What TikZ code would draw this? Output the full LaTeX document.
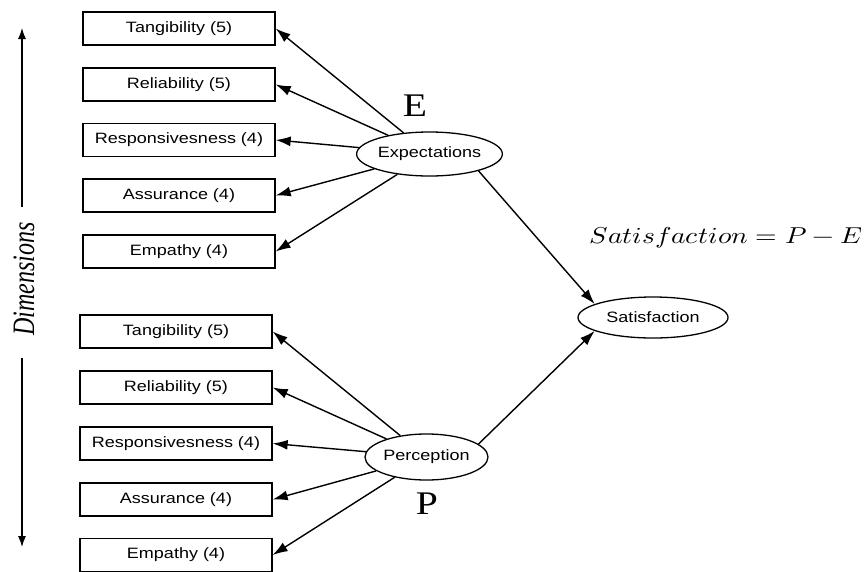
\documentclass[tikz,border=0pt]{standalone}
\usepackage{fontspec}
\usepackage{unicode-math}
\setmainfont{Liberation Serif}
\newfontfamily\boxfont[FakeStretch=1.2]{Liberation Sans}
\newfontfamily\labelfont[FakeStretch=1.2]{Liberation Serif}
\usetikzlibrary{arrows.meta, shapes.geometric}

\tikzset{
	dimbox/.style={draw, line width=1.3pt, minimum width=192pt, minimum height=33pt,
		inner sep=0pt, font=\boxfont\fontsize{15}{18}\selectfont},
	construct/.style={draw, ellipse, line width=1.3pt, inner sep=0pt,
		font=\boxfont\fontsize{15}{18}\selectfont},
	arrowlink/.style={-{Latex[length=15pt, width=10pt]}, line width=1.4pt},
	bigletter/.style={font=\labelfont\fontsize{33}{36}\selectfont}
}

\begin{document}
\begin{tikzpicture}[x=1pt, y=-1pt]
	\useasboundingbox (0,0) rectangle (864,571);
	
	% Dimensions axis
	\node[rotate=90, inner sep=0pt, font=\rmfamily\itshape\fontsize{24}{28}\selectfont] (dimlabel) at (24,279)
		{\scalebox{1}[1.3]{Dimensions}};
	\coordinate (uptop) at (22,28);
	\coordinate (upbot) at (22,207);
	\coordinate (downtop) at (22,358);
	\coordinate (downbot) at (22,547);
	\draw[-{Latex[length=11pt, width=8pt]}, line width=1.2pt] (upbot) -- (uptop);
	\draw[-{Latex[length=11pt, width=8pt]}, line width=1.2pt] (downtop) -- (downbot);
	
	% Constructs
	\node[construct, minimum width=125pt, minimum height=44pt] (expect) at (429.5,154) {Expectations};
	\node[construct, minimum width=123pt, minimum height=46pt] (percep) at (426.5,457) {Perception};
	\node[construct, minimum width=150pt, minimum height=41pt] (satis) at (653,317.5) {Satisfaction};
	
	% Expectation dimensions
	\foreach \name/\txt/\y in {e1/Tangibility (5)/28.5, e2/Reliability (5)/84.5,
		e3/Responsivesness (4)/140, e4/Assurance (4)/195.5, e5/Empathy (4)/251.5} {
		\node[dimbox] (\name) at (179,\y) {\txt};
	}
	
	% Perception dimensions
	\foreach \name/\txt/\y in {p1/Tangibility (5)/331.5, p2/Reliability (5)/387.5,
		p3/Responsivesness (4)/443.5, p4/Assurance (4)/499.5, p5/Empathy (4)/555} {
		\node[dimbox] (\name) at (176,\y) {\txt};
	}
	
	% Links
	\foreach \i in {1,...,5} {
		\draw[arrowlink] (expect) -- (e\i.east);
		\draw[arrowlink] (percep) -- (p\i.east);
	}
	\draw[arrowlink] (expect.-19) -- (satis.167);
	\draw[arrowlink] (percep.14) -- (satis.193);
	
	% Labels
	\node[bigletter] (elabel) at (415,106) {E};
	\node[bigletter] (plabel) at (427,504) {P};
	\node (formula) at (726,238) {\fontsize{23}{28}\selectfont\scalebox{1.2}[1]{$Satisfaction = P - E$}};
\end{tikzpicture}
\end{document}
